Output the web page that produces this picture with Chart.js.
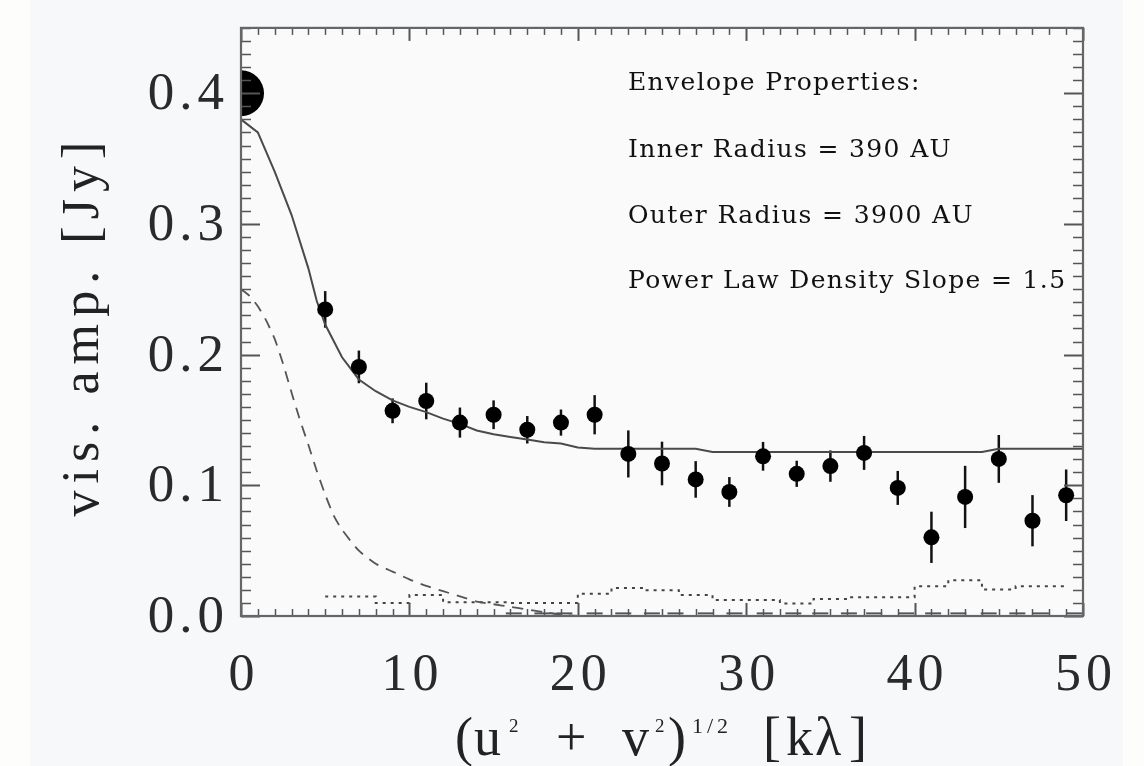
<!DOCTYPE html>
<html><head><meta charset="utf-8">
<script src="https://cdn.jsdelivr.net/npm/chart.js@4.4.1/dist/chart.umd.min.js"></script>
<style>html,body{margin:0;padding:0;background:#fdfdfb;}canvas{display:block}</style>
</head><body><canvas id="c" width="1144" height="766"></canvas>
<script>
// ---------- data ----------
const xTickLabels = ['0', '10', '20', '30', '40', '50'];
const yTickLabels = ['0.0', '0.1', '0.2', '0.3', '0.4'];

const uvDist = [5, 7, 9, 11, 13, 15, 17, 19, 21, 23, 25, 27, 29, 31, 33, 35, 37, 39, 41, 43, 45, 47, 49];
const visAmp = [0.2346, 0.1906, 0.157, 0.1645, 0.148, 0.154, 0.1425, 0.148, 0.154, 0.124, 0.1167, 0.1045,
                0.0949, 0.1222, 0.1088, 0.1147, 0.1248, 0.098, 0.0602, 0.0911, 0.1202, 0.0729, 0.0924];
const visErr = [0.014, 0.0125, 0.0095, 0.014, 0.0115, 0.011, 0.0105, 0.010, 0.015, 0.018, 0.0167, 0.014,
                0.0114, 0.011, 0.010, 0.012, 0.013, 0.013, 0.0196, 0.0238, 0.0183, 0.0196, 0.0197];

const zeroSpacingX = [0];
const zeroSpacingAmp = [0.4];

const modelX = [0, 1, 2, 3, 4, 4.5, 5, 6, 7, 8, 9, 10, 11, 12, 13, 14, 15, 16, 17, 18, 19, 20, 21, 23, 27, 28, 44, 45, 50];
const modelAmp = [0.380, 0.370, 0.340, 0.307, 0.266, 0.241, 0.223, 0.198, 0.181, 0.172, 0.165, 0.160, 0.156, 0.151,
                  0.147, 0.142, 0.139, 0.137, 0.135, 0.133, 0.132, 0.129, 0.128, 0.128, 0.128, 0.1255, 0.1255, 0.128, 0.128];

const compactX = [0, 0.5, 1, 1.5, 2, 2.5, 3, 3.5, 4, 4.5, 5, 5.5, 6, 7, 8, 9, 10, 11, 12, 13, 14, 15, 16, 17, 18, 19, 20];
const compactAmp = [0.250, 0.245, 0.237, 0.226, 0.212, 0.193, 0.171, 0.150, 0.131, 0.111, 0.093, 0.077, 0.066, 0.050,
                    0.040, 0.034, 0.028, 0.023, 0.019, 0.015, 0.011, 0.009, 0.007, 0.005, 0.003, 0.001, 0.0];

const noiseAmp = [0.015, 0.015, 0.010, 0.016, 0.0105, 0.0105, 0.010, 0.010, 0.017, 0.0215, 0.0197, 0.016,
                  0.0122, 0.0122, 0.0096, 0.013, 0.0144, 0.0144, 0.0228, 0.0273, 0.0203, 0.0228, 0.0228];

const residX = [16.2, 17.9, 19.2, 21, 22.7, 24.4, 25.8, 27.6, 29.3, 31.1, 32.8, 34.4, 36.1, 37.6, 39.5, 41.1, 42.6, 44.4, 46.1, 47.5, 49.5];
const residAmp = [0.002, 0.002, 0.002, 0.002, 0.002, 0.002, 0.002, 0.002, 0.002, 0.002, 0.002, 0.002, 0.002, 0.002,
                  0.002, 0.002, 0.002, 0.002, 0.002, 0.002, 0.002];

const annotationLines = ['Envelope Properties:', 'Inner Radius = 390 AU', 'Outer Radius = 3900 AU', 'Power Law Density Slope = 1.5'];
const yTitle = 'vis. amp. [Jy]';

// ---------- helpers ----------
const pts = (xs, ys) => xs.map((x, i) => ({x: x, y: ys[i]}));

const bgPlugin = {
  id: 'bg',
  beforeDraw(chart) {
    const {ctx, chartArea: a} = chart;
    ctx.save();
    ctx.fillStyle = '#fdfdfb';
    ctx.fillRect(0, 0, 1144, 766);
    ctx.fillStyle = '#f7f8fa';
    ctx.fillRect(30, 0, 1093, 766);
    ctx.fillStyle = '#fafafa';
    ctx.fillRect(a.left, a.top, a.right - a.left, a.bottom - a.top);
    ctx.restore();
    ctx.letterSpacing = '5px';
  }
};

const errPlugin = {
  id: 'errbars',
  beforeDatasetsDraw(chart) {
    const {ctx, chartArea: a, scales: {x, y}} = chart;
    ctx.save();
    ctx.beginPath(); ctx.rect(a.left, a.top, a.right - a.left, a.bottom - a.top); ctx.clip();
    ctx.strokeStyle = '#111'; ctx.lineWidth = 2.5;
    uvDist.forEach((u, i) => {
      const px = x.getPixelForValue(u);
      ctx.beginPath();
      ctx.moveTo(px, y.getPixelForValue(visAmp[i] - visErr[i]));
      ctx.lineTo(px, y.getPixelForValue(visAmp[i] + visErr[i]));
      ctx.stroke();
    });
    ctx.restore();
  }
};

const framePlugin = {
  id: 'frame',
  afterDatasetsDraw(chart) {
    const {ctx, chartArea: a, scales: {x, y}} = chart;
    ctx.save();
    ctx.letterSpacing = '0px';
    ctx.strokeStyle = '#555';
    const seg = (x1, y1, x2, y2) => { ctx.beginPath(); ctx.moveTo(x1, y1); ctx.lineTo(x2, y2); ctx.stroke(); };
    for (let v = 0; v <= 50; v++) {
      const px = Math.round(x.getPixelForValue(v)) + 0.5;
      const major = v % 10 === 0;
      const L = major ? 13 : 7;
      ctx.lineWidth = major ? 2 : 1.5;
      seg(px, a.bottom, px, a.bottom - L);
      seg(px, a.top, px, a.top + L);
    }
    for (let k = 0; k <= 45; k++) {
      const py = Math.round(y.getPixelForValue(k / 100)) + 0.5;
      const major = k % 10 === 0;
      const L = major ? 19 : 10;
      ctx.lineWidth = major ? 2 : 1.5;
      seg(a.left, py, a.left + L, py);
      seg(a.right, py, a.right - L, py);
    }
    ctx.lineWidth = 2.2;
    ctx.strokeStyle = '#666';
    ctx.strokeRect(a.left, a.top, a.right - a.left, a.bottom - a.top);
    ctx.restore();
  },
  afterDraw(chart) {
    const ctx = chart.ctx;
    ctx.save();
    ctx.fillStyle = '#111';
    ctx.textBaseline = 'alphabetic';
    // annotation block
    ctx.font = '25px "DejaVu Serif"';
    ctx.letterSpacing = '0px';
    const w4 = ctx.measureText(annotationLines[3]).width;
    const ls = Math.max(0, (437 - w4) / (annotationLines[3].length - 1));
    ctx.letterSpacing = ls.toFixed(2) + 'px';
    ctx.textAlign = 'left';
    const baselines = [90, 157, 223, 288];
    annotationLines.forEach((t, i) => ctx.fillText(t, 628, baselines[i]));

    // y title (rotated)
    ctx.fillStyle = '#222';
    ctx.font = '52px "Liberation Serif"';
    ctx.letterSpacing = '0px';
    const wy = ctx.measureText(yTitle).width;
    const lsy = (375 - wy) / (yTitle.length - 1);
    ctx.letterSpacing = lsy.toFixed(2) + 'px';
    ctx.save();
    ctx.translate(98, 322 + lsy / 2);
    ctx.rotate(-Math.PI / 2);
    ctx.textAlign = 'center';
    ctx.fillText(yTitle, 0, 0);
    ctx.restore();

    // x title pieces: (u^2 + v^2)^{1/2} [kλ]
    ctx.textAlign = 'left';
    const parts = [
      ['(', 455, 755, 54, 0], ['u', 474, 755, 54, 0], ['2', 509, 732, 19, 0],
      ['+', 556, 755, 54, 0], ['v', 622, 755, 54, 0], ['2', 655, 732, 19, 0],
      [')', 668, 755, 54, 0], ['1/2', 692, 733, 22, 4],
      ['[', 763, 755, 54, 0], ['kλ', 786, 755, 54, 2], [']', 849, 755, 54, 0]
    ];
    parts.forEach(p => {
      ctx.font = p[3] + 'px "Liberation Serif"';
      ctx.letterSpacing = p[4] + 'px';
      ctx.fillText(p[0], p[1], p[2]);
    });
    ctx.restore();
    ctx.letterSpacing = '0px';
  }
};

new Chart(document.getElementById('c'), {
  type: 'scatter',
  data: {
    datasets: [
      {label: 'zero spacing', data: pts(zeroSpacingX, zeroSpacingAmp), pointRadius: 23, pointHoverRadius: 23,
       backgroundColor: '#000', borderColor: '#000', borderWidth: 0, clip: 0},
      {label: 'data', data: pts(uvDist, visAmp), pointRadius: 8, pointHoverRadius: 8,
       backgroundColor: '#000', borderColor: '#000', borderWidth: 0},
      {label: 'model', data: pts(modelX, modelAmp), showLine: true, pointRadius: 0,
       borderColor: '#4a4a4a', borderWidth: 2, tension: 0, clip: 0},
      {label: 'compact', data: pts(compactX, compactAmp), showLine: true, pointRadius: 0,
       borderColor: '#555', borderWidth: 1.8, borderDash: [11, 8], tension: 0.2, clip: 0},
      {label: 'noise', data: pts(uvDist, noiseAmp), showLine: true, pointRadius: 0, stepped: 'middle',
       borderColor: '#444', borderWidth: 2, borderDash: [3, 5], clip: 0},
      {label: 'resid', data: pts(residX, residAmp), pointStyle: 'line', pointRadius: 8,
       borderColor: '#555', borderWidth: 2, backgroundColor: '#555', clip: 0}
    ]
  },
  options: {
    responsive: false,
    animation: false,
    devicePixelRatio: 1,
    events: [],
    layout: {padding: {top: 23, right: 61, left: 0, bottom: 0}},
    plugins: {legend: {display: false}, tooltip: {enabled: false}},
    scales: {
      x: {
        type: 'linear', min: 0, max: 50,
        grid: {display: false, drawTicks: false},
        border: {display: false},
        ticks: {
          stepSize: 10, padding: 34, labelOffset: 3, maxRotation: 0, autoSkip: false,
          color: '#2a2a2a', font: {family: '"Liberation Serif"', size: 52, lineHeight: 1},
          callback: (v) => xTickLabels[Math.round(v / 10)]
        },
        afterFit: (s) => { s.height = 150; }
      },
      y: {
        type: 'linear', min: 0, max: 0.45,
        grid: {display: false, drawTicks: false},
        border: {display: false},
        ticks: {
          stepSize: 0.1, includeBounds: false, padding: 12, labelOffset: 2, autoSkip: false,
          color: '#2a2a2a', font: {family: '"Liberation Serif"', size: 53, lineHeight: 0.6},
          callback: (v) => yTickLabels[Math.round(v * 10)]
        },
        afterFit: (s) => { s.width = 241; }
      }
    }
  },
  plugins: [bgPlugin, errPlugin, framePlugin]
});
</script>
</body></html>
